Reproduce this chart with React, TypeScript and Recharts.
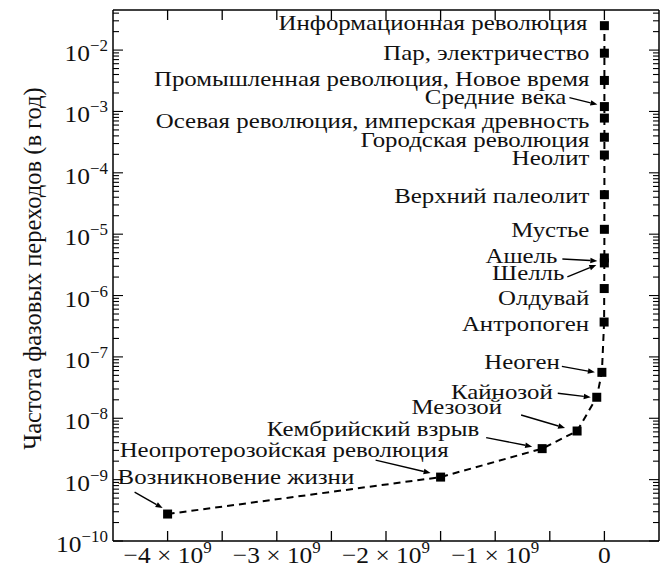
import React from 'react';
import { ScatterChart, Scatter, XAxis, YAxis } from 'recharts';

// transitions, from the origin of life up to the information revolution
const names = [
  'Возникновение жизни',
  'Неопротерозойская революция',
  'Кембрийский взрыв',
  'Мезозой',
  'Кайнозой',
  'Неоген',
  'Антропоген',
  'Олдувай',
  'Шелль',
  'Ашель',
  'Мустье',
  'Верхний палеолит',
  'Неолит',
  'Городская революция',
  'Осевая революция, имперская древность',
  'Средние века',
  'Промышленная революция, Новое время',
  'Пар, электричество',
  'Информационная революция',
];
// years (negative = ago)
const years = [
  -4e9, -1.5e9, -5.7e8, -2.5e8, -7e7, -2.3e7, -2.6e6, -1.5e6, -6e5, -4e5,
  -1.2e5, -4e4, -1e4, -5000, -2500, -1100, -300, -110, -40,
];
// frequency of phase transitions, per year
const freqs = [
  2.75e-10, 1.1e-9, 3.2e-9, 6.2e-9, 2.2e-8, 5.6e-8, 3.7e-7, 1.3e-6, 3.4e-6, 4.1e-6,
  1.2e-5, 4.4e-5, 1.95e-4, 3.8e-4, 7.8e-4, 1.2e-3, 3.2e-3, 8.9e-3, 2.5e-2,
];

const xTicks = [-4e9, -3.5e9, -3e9, -2.5e9, -2e9, -1.5e9, -1e9, -0.5e9, 0];
const xMajor = [-4e9, -3e9, -2e9, -1e9, 0];
const xMajorText = ['−4 × 10', '−3 × 10', '−2 × 10', '−1 × 10', '0'];

const yDecades = [1e-10, 1e-9, 1e-8, 1e-7, 1e-6, 1e-5, 1e-4, 1e-3, 1e-2];
const yDecadeExp = ['−10', '−9', '−8', '−7', '−6', '−5', '−4', '−3', '−2'];

const yTitle = 'Частота фазовых переходов (в год)';

const X_DOMAIN = [-4.5e9, 0.5e9];
const Y_DOMAIN = [1e-10, 0.045];

const yTicks: number[] = [];
yDecades.forEach((d) => {
  yTicks.push(d);
  for (let k = 2; k <= 9; k++) if (k * d <= Y_DOMAIN[1]) yTicks.push(k * d);
});

const data = names.map((name, i) => ({ name, t: years[i], f: freqs[i] }));

const FONT = '"Liberation Serif", "Times New Roman", serif';
const FS = 22; // point labels
const SX = 1.13; // the scan is a bit wider than tall
const TICK_FS = 24;
const TICK_SX = 1.06;
const SUP_FS = 16;

// label offsets relative to the marker (styling only)
const labelLayout: Record<string, { dx: number; dy: number; anchor?: string; arrow?: number[] }> = {
  'Информационная революция': { dx: -17, dy: -3 },
  'Пар, электричество': { dx: -15, dy: -1 },
  'Промышленная революция, Новое время': { dx: -15, dy: -2 },
  'Средние века': { dx: -38, dy: -10, arrow: [-35, -9, -7, -2] },
  'Осевая революция, имперская древность': { dx: -15, dy: 2 },
  'Городская революция': { dx: -15, dy: 2 },
  'Неолит': { dx: -15, dy: 2 },
  'Верхний палеолит': { dx: -15, dy: 1 },
  'Мустье': { dx: -15, dy: 0 },
  'Ашель': { dx: -47, dy: -2, arrow: [-42, 1, -7, 3] },
  'Шелль': { dx: -40, dy: 10, arrow: [-37, 14, -8, 2] },
  'Олдувай': { dx: -15, dy: 9 },
  'Антропоген': { dx: -15, dy: 1 },
  'Неоген': { dx: -42, dy: -11, arrow: [-40, -6, -7, 0] },
  'Кайнозой': { dx: -44, dy: -6, arrow: [-39, -4, -6, 0] },
  'Мезозой': { dx: -75, dy: -25, arrow: [-56, -16, -12, -3] },
  'Кембрийский взрыв': { dx: -63, dy: -20, arrow: [-56, -11, -10, -2] },
  'Неопротерозойская революция': { dx: 8, dy: -28, arrow: [-65, -17, -10, -4] },
  'Возникновение жизни': { dx: -50, dy: -38, anchor: 'start', arrow: [-33, -22, -5, -6] },
};

const Arrow = ({ x1, y1, x2, y2 }: any) => {
  const a = Math.atan2(y2 - y1, x2 - x1);
  const L = 7;
  const W = 2.8;
  const bx = x2 - L * Math.cos(a);
  const by = y2 - L * Math.sin(a);
  const px = -Math.sin(a) * W;
  const py = Math.cos(a) * W;
  return (
    <g>
      <line x1={x1} y1={y1} x2={bx} y2={by} stroke="#000" strokeWidth={1.4} />
      <polygon points={`${x2},${y2} ${bx + px},${by + py} ${bx - px},${by - py}`} fill="#000" />
    </g>
  );
};

const Marker = (props: any) => {
  const { cx, cy, payload } = props;
  const lay = labelLayout[payload.name];
  return (
    <g>
      <rect x={cx - 4.5} y={cy - 4.5} width={9} height={9} fill="#000" />
      {lay && (
        <text
          transform={`translate(${cx + lay.dx},${cy + lay.dy}) scale(${SX},1)`}
          textAnchor={lay.anchor || 'end'}
          dominantBaseline="central"
          fontFamily={FONT}
          fontSize={FS}
          fill="#111"
        >
          {payload.name}
        </text>
      )}
      {lay && lay.arrow && (
        <Arrow
          x1={cx + lay.arrow[0]}
          y1={cy + lay.arrow[1]}
          x2={cx + lay.arrow[2]}
          y2={cy + lay.arrow[3]}
        />
      )}
    </g>
  );
};

const BottomTick = ({ x, y, payload }: any) => {
  const i = xMajor.indexOf(payload.value);
  return (
    <g>
      <line x1={x} y1={y} x2={x} y2={y - 10} stroke="#000" strokeWidth={1.3} />
      {i >= 0 && (
        <text
          transform={`translate(${x},${y + 22}) scale(${TICK_SX},1)`}
          textAnchor="middle"
          fontFamily={FONT}
          fontSize={TICK_FS}
          fill="#111"
        >
          {xMajorText[i]}
          {payload.value !== 0 && (
            <tspan dy={-10} fontSize={SUP_FS}>
              9
            </tspan>
          )}
        </text>
      )}
    </g>
  );
};

const TopTick = ({ x, y }: any) => (
  <line x1={x} y1={y} x2={x} y2={y + 10} stroke="#000" strokeWidth={1.3} />
);

const LeftTick = ({ x, y, payload }: any) => {
  const i = yDecades.indexOf(payload.value);
  const len = i >= 0 ? 10 : 6;
  return (
    <g>
      <line x1={x} y1={y} x2={x + len} y2={y} stroke="#000" strokeWidth={1.1} />
      {i >= 0 && (
        <text
          transform={`translate(${x - 5},${y + 11}) scale(${TICK_SX},1)`}
          textAnchor="end"
          fontFamily={FONT}
          fontSize={TICK_FS}
          fill="#111"
        >
          10
          <tspan dy={-10} fontSize={SUP_FS}>
            {yDecadeExp[i]}
          </tspan>
        </text>
      )}
    </g>
  );
};

const RightTick = ({ x, y, payload }: any) => {
  const len = yDecades.indexOf(payload.value) >= 0 ? 10 : 6;
  return <line x1={x} y1={y} x2={x - len} y2={y} stroke="#000" strokeWidth={1.1} />;
};

const TitleLabel = (props: any) => {
  const vb = props.viewBox || { x: 0, y: 2, width: 105, height: 531 };
  const cx = vb.x + 24;
  const cy = vb.y + vb.height / 2 - 7;
  return (
    <text
      transform={`translate(${cx},${cy}) rotate(-90)`}
      textAnchor="middle"
      dominantBaseline="central"
      fontFamily={FONT}
      fontSize={24.5}
      fill="#111"
    >
      {yTitle}
    </text>
  );
};

export default function App() {
  return (
    <div style={{ width: 660, height: 561, background: '#fff' }}>
      <ScatterChart width={660} height={561} margin={{ top: 0, right: 0, bottom: 0, left: 0 }}>
        <XAxis
          xAxisId="b"
          dataKey="t"
          type="number"
          domain={X_DOMAIN}
          allowDataOverflow
          ticks={xTicks}
          interval={0}
          tickSize={0}
          tickMargin={0}
          tickLine={false}
          tick={<BottomTick />}
          height={28}
          axisLine={{ stroke: '#000', strokeWidth: 1.5 }}
        />
        <XAxis
          xAxisId="top"
          orientation="top"
          dataKey="t"
          type="number"
          domain={X_DOMAIN}
          allowDataOverflow
          ticks={xTicks}
          interval={0}
          tickSize={0}
          tickMargin={0}
          tickLine={false}
          tick={<TopTick />}
          height={2}
          axisLine={{ stroke: '#000', strokeWidth: 1.5 }}
        />
        <YAxis
          yAxisId="l"
          dataKey="f"
          type="number"
          scale="log"
          domain={Y_DOMAIN}
          allowDataOverflow
          ticks={yTicks}
          interval={0}
          tickSize={0}
          tickMargin={0}
          tickLine={false}
          tick={<LeftTick />}
          width={105}
          axisLine={{ stroke: '#000', strokeWidth: 1.5 }}
          label={<TitleLabel />}
        />
        <YAxis
          yAxisId="r"
          orientation="right"
          dataKey="f"
          type="number"
          scale="log"
          domain={Y_DOMAIN}
          allowDataOverflow
          ticks={yTicks}
          interval={0}
          tickSize={0}
          tickMargin={0}
          tickLine={false}
          tick={<RightTick />}
          width={9}
          axisLine={{ stroke: '#000', strokeWidth: 1.5 }}
        />
        <Scatter
          data={data}
          dataKey="f"
          xAxisId="b"
          yAxisId="l"
          isAnimationActive={false}
          line={{ stroke: '#000', strokeWidth: 2, strokeDasharray: '7 5' }}
          lineType="joint"
          shape={<Marker />}
        />
      </ScatterChart>
    </div>
  );
}
